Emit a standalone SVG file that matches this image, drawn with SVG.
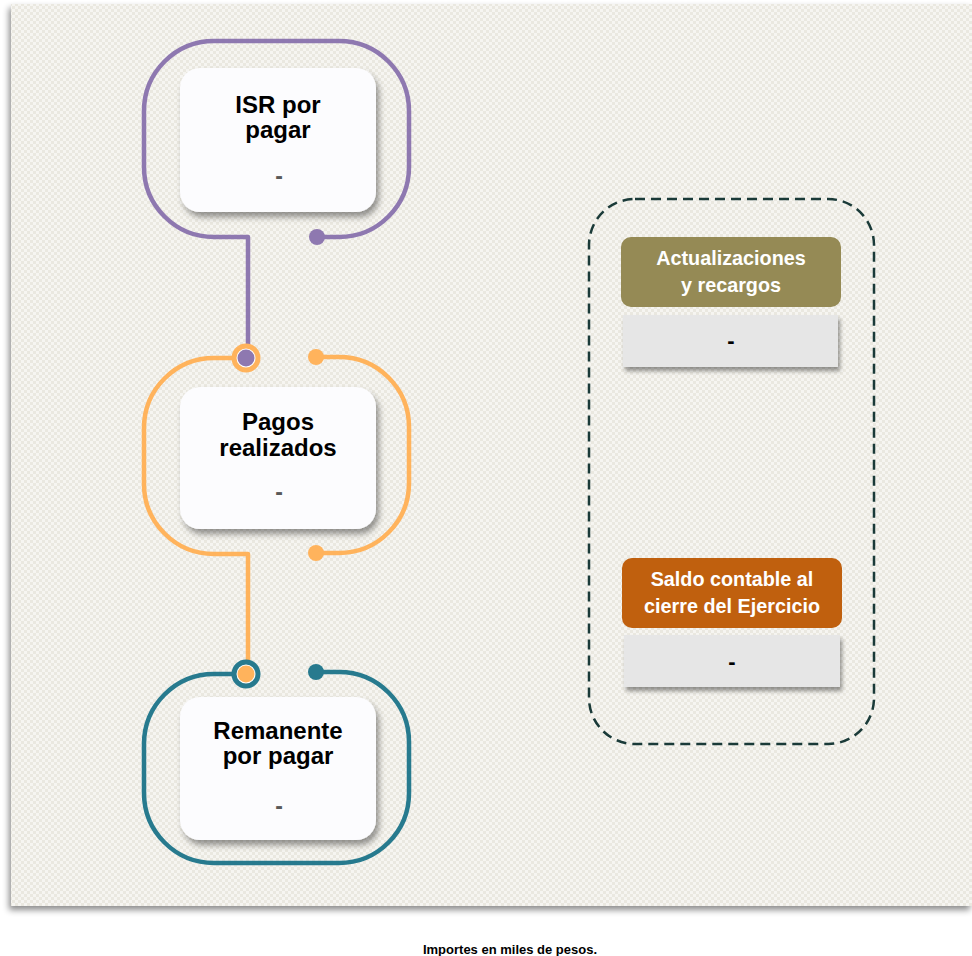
<svg xmlns="http://www.w3.org/2000/svg" width="972" height="956" viewBox="0 0 972 956">
<defs>
<pattern id="bgp" width="6" height="6" patternUnits="userSpaceOnUse">
<rect width="6" height="6" fill="#F6F5F1"/>
<rect x="0" y="0" width="3" height="3" fill="#EAE8E0"/>
<rect x="3" y="3" width="3" height="3" fill="#EAE8E0"/>
</pattern>
<filter id="panelSh" x="-5%" y="-5%" width="110%" height="110%">
<feDropShadow dx="-2" dy="4" stdDeviation="3" flood-color="#000" flood-opacity="0.45"/>
</filter>
<filter id="cardSh" x="-20%" y="-20%" width="140%" height="150%">
<feDropShadow dx="3" dy="5" stdDeviation="3" flood-color="#000" flood-opacity="0.4"/>
</filter>
<filter id="boxSh" x="-10%" y="-20%" width="120%" height="150%">
<feDropShadow dx="2" dy="4" stdDeviation="2" flood-color="#000" flood-opacity="0.4"/>
</filter>
<style>
.card{fill:#FCFCFE;filter:url(#cardSh);}
.ttl{font-family:"Liberation Sans",Arial,sans-serif;font-weight:bold;font-size:24px;fill:#000;text-anchor:middle;}
.val{font-family:"Liberation Sans",Arial,sans-serif;font-weight:bold;font-size:23px;fill:#595959;text-anchor:middle;}
.hdr{font-family:"Liberation Sans",Arial,sans-serif;font-weight:bold;font-size:19.8px;fill:#FFFFFF;text-anchor:middle;}
.bval{font-family:"Liberation Sans",Arial,sans-serif;font-weight:bold;font-size:22px;fill:#000;text-anchor:middle;}
.box{fill:#E6E6E6;filter:url(#boxSh);}
.loop{fill:none;stroke-width:4.5;stroke-linejoin:round;}
.foot{font-family:"Liberation Sans",Arial,sans-serif;font-weight:bold;font-size:13px;fill:#000;text-anchor:middle;}
</style>
</defs>
<rect x="0" y="0" width="972" height="956" fill="#FFFFFF"/>
<rect id="panel" x="11" y="4" width="961" height="902" fill="url(#bgp)" filter="url(#panelSh)"/>

<g id="connectors">
<path class="loop" stroke="#8E78B0" d="M317,237 H339 A70,70 0 0 0 409,167 V111 A70,70 0 0 0 339,41 H214 A70,70 0 0 0 144,111 V167 A70,70 0 0 0 214,237 H248 V346"/>
<circle cx="317" cy="237" r="8" fill="#8E78B0"/>
<path class="loop" stroke="#FFB35C" d="M246,358 H214 A70,70 0 0 0 144,428 V484 A70,70 0 0 0 214,554 H248 V662"/>
<path class="loop" stroke="#FFB35C" d="M316,357 H339 A70,70 0 0 1 409,427 V483 A70,70 0 0 1 339,553 H316"/>
<circle cx="316" cy="357" r="8" fill="#FFB35C"/>
<circle cx="316" cy="553" r="8" fill="#FFB35C"/>
<circle cx="246" cy="358" r="12" fill="#FFFFFF" stroke="#FFB35C" stroke-width="5"/>
<circle cx="246" cy="358" r="8.5" fill="#8E78B0"/>
<path class="loop" stroke="#277A8E" d="M246,674 H214 A70,70 0 0 0 144,744 V793 A70,70 0 0 0 214,863 H339 A70,70 0 0 0 409,793 V742 A70,70 0 0 0 339,672 H316"/>
<circle cx="316" cy="672" r="8" fill="#277A8E"/>
<circle cx="246" cy="674" r="12" fill="#FFFFFF" stroke="#277A8E" stroke-width="5"/>
<circle cx="246" cy="674" r="8.5" fill="#FFB35C"/>
</g>

<g id="node-isr">
<rect class="card" x="180" y="68" width="196" height="144" rx="20"/>
<text class="ttl" x="278" y="113">ISR por</text>
<text class="ttl" x="278" y="138">pagar</text>
<text class="val" x="279" y="184">-</text>
</g>

<g id="node-pagos">
<rect class="card" x="180" y="387" width="196" height="142" rx="20"/>
<text class="ttl" x="278" y="430">Pagos</text>
<text class="ttl" x="278" y="456">realizados</text>
<text class="val" x="279" y="500">-</text>
</g>

<g id="node-remanente">
<rect class="card" x="180" y="697" width="196" height="143" rx="20"/>
<text class="ttl" x="278" y="739">Remanente</text>
<text class="ttl" x="278" y="764">por pagar</text>
<text class="val" x="279" y="814">-</text>
</g>

<g id="group-right">
<rect x="589" y="199" width="285" height="545" rx="46" fill="none" stroke="#1A3A38" stroke-width="2.5" stroke-dasharray="10 6"/>
</g>

<g id="node-actualizaciones">
<rect x="621" y="237" width="220" height="70" rx="10" fill="#958A55"/>
<text class="hdr" x="731" y="265">Actualizaciones</text>
<text class="hdr" x="731" y="292">y recargos</text>
<rect class="box" x="623" y="315" width="215" height="52"/>
<text class="bval" x="731" y="348">-</text>
</g>

<g id="node-saldo">
<rect x="622" y="558" width="220" height="70" rx="10" fill="#C0600E"/>
<text class="hdr" x="732" y="586">Saldo contable al</text>
<text class="hdr" x="732" y="613">cierre del Ejercicio</text>
<rect class="box" x="624" y="635" width="216" height="52"/>
<text class="bval" x="732" y="669">-</text>
</g>

<text class="foot" x="510" y="954">Importes en miles de pesos.</text>
</svg>
